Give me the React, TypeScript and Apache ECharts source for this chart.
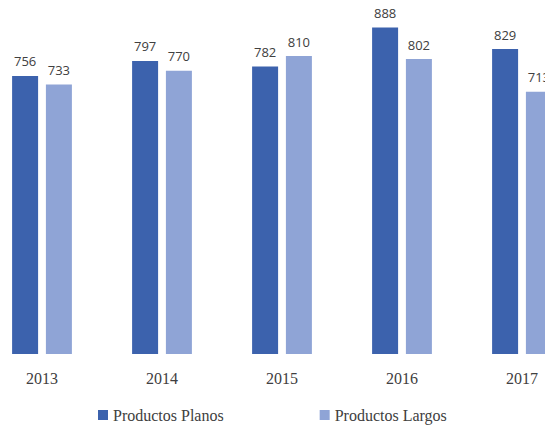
import React, { useEffect, useRef } from "react";
import * as echarts from "echarts";

const years = ["2013", "2014", "2015", "2016", "2017"];
const planos = [756, 797, 782, 888, 829];
const largos = [733, 770, 810, 802, 713];
const seriesNames = ["Productos Planos", "Productos Largos"];

export default function App() {
  const ref = useRef<HTMLDivElement>(null);
  useEffect(() => {
    if (!ref.current) return;
    const chart = echarts.init(ref.current, undefined, { renderer: "svg" });
    const labelStyle = {
      show: true,
      position: "top" as const,
      distance: 8,
      color: "#404040",
      fontFamily: "Open Sans",
      fontSize: 13,
    };
    chart.setOption({
      animation: false,
      backgroundColor: "#ffffff",
      grid: { left: 0, right: 20, top: 23, bottom: 76 },
      legend: {
        data: seriesNames,
        left: 111,
        top: 402,
        icon: "rect",
        itemWidth: 10,
        itemHeight: 10,
        itemGap: 96,
        textStyle: { fontFamily: "Liberation Serif", fontSize: 16, color: "#404040" },
      },
      xAxis: {
        type: "category",
        data: years,
        axisLine: { show: false },
        axisTick: { show: false },
        axisLabel: {
          margin: 16,
          fontFamily: "Liberation Serif",
          fontSize: 16,
          color: "#404040",
        },
      },
      yAxis: { type: "value", min: 0, max: 900, show: false, splitLine: { show: false } },
      series: [
        {
          name: seriesNames[0],
          type: "bar",
          data: planos,
          barWidth: 26,
          barGap: "30%",
          itemStyle: { color: "#3c62ad" },
          label: labelStyle,
        },
        {
          name: seriesNames[1],
          type: "bar",
          data: largos,
          barWidth: 26,
          barGap: "30%",
          itemStyle: { color: "#8fa4d6" },
          label: labelStyle,
        },
      ],
    });
    return () => chart.dispose();
  }, []);
  return (
    <div
      style={{
        position: "fixed",
        left: 0,
        top: 0,
        width: 545,
        height: 430,
        overflow: "hidden",
        background: "#fff",
      }}
    >
      <div ref={ref} style={{ position: "absolute", left: -18, top: 0, width: 620, height: 430 }} />
    </div>
  );
}
